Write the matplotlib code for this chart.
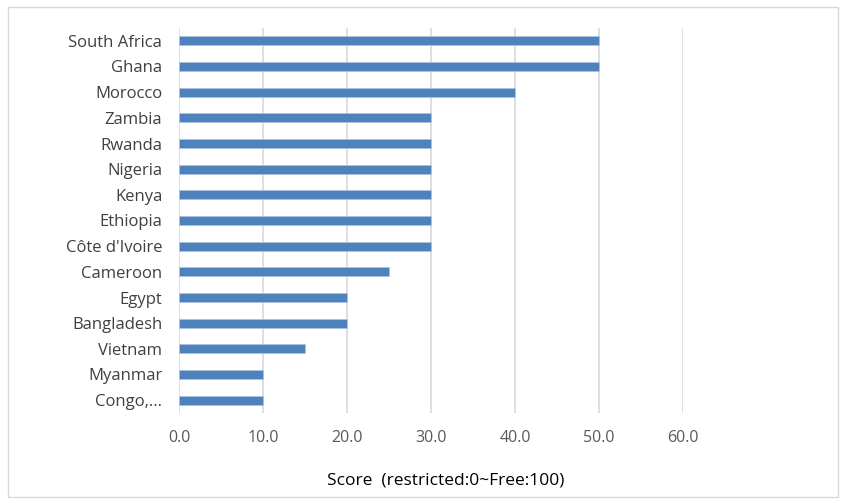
import matplotlib
matplotlib.use("Agg")
import matplotlib.pyplot as plt
from matplotlib.patches import Rectangle

countries = ["South Africa", "Ghana", "Morocco", "Zambia", "Rwanda", "Nigeria", "Kenya",
             "Ethiopia", "Côte d'Ivoire", "Cameroon", "Egypt", "Bangladesh", "Vietnam",
             "Myanmar", "Congo,..."]
scores = [50, 50, 40, 30, 30, 30, 30, 30, 30, 25, 20, 20, 15, 10, 10]
xticks = [0, 10, 20, 30, 40, 50, 60]
xlabel = "Score  (restricted:0~Free:100)"

plt.rcParams['font.family'] = ['Open Sans', 'DejaVu Sans']
fig = plt.figure(figsize=(8.49, 5.04), dpi=100)
ax = fig.add_axes([179/849, 1-413/504, (683-179)/849, (413-28)/504])

n = len(countries)
ypos = list(range(n))
ax.barh(ypos, scores, height=0.35, color="#4F81BD", edgecolor="#A9C4E4", linewidth=0.6, zorder=3)
ax.set_ylim(n-0.5, -0.5)
ax.set_xlim(0, 60)
ax.set_yticks(ypos)
ax.set_yticklabels(countries, fontsize=12, color="#404040")
ax.set_xticks(xticks)
ax.set_xticklabels([f"{v:.1f}" for v in xticks], fontsize=11.5, color="#595959")
ax.tick_params(axis='both', length=0)
ax.tick_params(axis='x', pad=12)
ax.tick_params(axis='y', pad=12)
ax.grid(axis='x', color="#D9D9D9", linewidth=1.2, zorder=0)
for s in ax.spines.values():
    s.set_visible(False)
ax.set_xlabel(xlabel, fontsize=12.5, color="#000000")
ax.xaxis.set_label_coords((446-179)/504, -0.155)

fig.patches.append(Rectangle((8/849, 1-497/504), (838-8)/849, (497-7)/504,
                             transform=fig.transFigure, fill=False, edgecolor="#D9D9D9", linewidth=1))
fig.savefig("out.png", dpi=100)
